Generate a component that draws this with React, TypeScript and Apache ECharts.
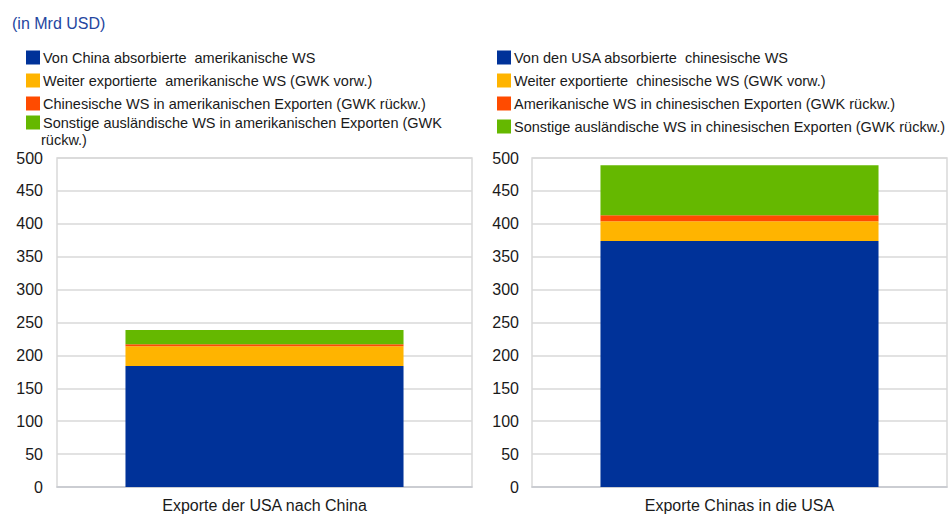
import React, { useEffect, useRef } from "react";
import * as echarts from "echarts";

const leftCategories = ["Exporte der USA nach China"];
const rightCategories = ["Exporte Chinas in die USA"];

const leftNames = [
  "Von China absorbierte  amerikanische WS",
  "Weiter exportierte  amerikanische WS (GWK vorw.)",
  "Chinesische WS in amerikanischen Exporten (GWK rückw.)",
  "Sonstige ausländische WS in amerikanischen Exporten (GWK rückw.)",
];
const rightNames = [
  "Von den USA absorbierte  chinesische WS",
  "Weiter exportierte  chinesische WS (GWK vorw.)",
  "Amerikanische WS in chinesischen Exporten (GWK rückw.)",
  "Sonstige ausländische WS in chinesischen Exporten (GWK rückw.)",
];

const leftValues = [184, 30, 3, 21.5];
const rightValues = [374, 30, 9, 76];

const colors = ["#003299", "#FFB400", "#FF4B00", "#65B800"];
const yTicks = { min: 0, max: 500, interval: 50 };

const FONT = "'Liberation Sans', Arial, sans-serif";

export default function App() {
  const ref = useRef<HTMLDivElement>(null);
  useEffect(() => {
    if (!ref.current) return;
    const chart = echarts.init(ref.current, null, { renderer: "svg" });
    const mkY = (gridIndex: number, margin: number) => ({
      type: "value",
      gridIndex,
      min: yTicks.min,
      max: yTicks.max,
      interval: yTicks.interval,
      axisLine: { show: false },
      axisTick: { show: false },
      axisLabel: { color: "#1a1a1a", fontSize: 16, fontFamily: FONT, margin },
      splitLine: { lineStyle: { color: "#d9d9d9", width: 1.5 } },
    });
    const mkX = (gridIndex: number, data: string[]) => ({
      type: "category",
      gridIndex,
      data,
      axisLine: { lineStyle: { color: "#c6c9d0", width: 1.5 } },
      axisTick: { show: false },
      axisLabel: { color: "#1a1a1a", fontSize: 16, fontFamily: FONT, margin: 10 },
    });
    const mkLegend = (names: string[], left: number, top: number) => ({
      orient: "vertical",
      left,
      top,
      padding: 0,
      itemWidth: 14,
      itemHeight: 14,
      itemGap: 8,
      icon: "rect",
      selectedMode: false,
      textStyle: { fontSize: 14.5, fontFamily: FONT, color: "#1a1a1a", padding: [0, 0, 0, -2] },
      data: names.map((n) => ({ name: n })),
    });
    const series: any[] = [];
    leftNames.forEach((n, i) =>
      series.push({
        name: n,
        type: "bar",
        stack: "left",
        xAxisIndex: 0,
        yAxisIndex: 0,
        barWidth: "67%",
        itemStyle: { color: colors[i] },
        data: [leftValues[i]],
      })
    );
    rightNames.forEach((n, i) =>
      series.push({
        name: n,
        type: "bar",
        stack: "right",
        xAxisIndex: 1,
        yAxisIndex: 1,
        barWidth: "67%",
        itemStyle: { color: colors[i] },
        data: [rightValues[i]],
      })
    );
    const leftLegendA: any = mkLegend(leftNames.slice(0, 3), 26, 50);
    const leftLegendB: any = mkLegend([leftNames[3]], 26, 115);
    leftLegendB.formatter = (name: string) => name.replace(" rückw.)", "");
    chart.setOption({
      animation: false,
      title: {
        text: "(in Mrd USD)",
        left: 7,
        top: 10,
        textStyle: { color: "#2546a0", fontSize: 16, fontWeight: "normal", fontFamily: FONT },
      },
      legend: [leftLegendA, leftLegendB, mkLegend(rightNames, 497, 50)],
      graphic: [
        {
          type: "text",
          left: 41,
          top: 132,
          style: { text: "rückw.)", font: `14.5px ${FONT}`, fill: "#1a1a1a" },
        },
      ],
      grid: [
        { left: 57, right: 480, top: 158, bottom: 27, show: true, borderColor: "#d9d9d9", borderWidth: 1.5 },
        { left: 532, right: 5, top: 158, bottom: 27, show: true, borderColor: "#d9d9d9", borderWidth: 1.5 },
      ],
      xAxis: [mkX(0, leftCategories), mkX(1, rightCategories)],
      yAxis: [mkY(0, 14), mkY(1, 13)],
      series,
    });
    return () => chart.dispose();
  }, []);
  return <div ref={ref} style={{ width: 952, height: 514, position: "absolute", left: 0, top: 0 }} />;
}
